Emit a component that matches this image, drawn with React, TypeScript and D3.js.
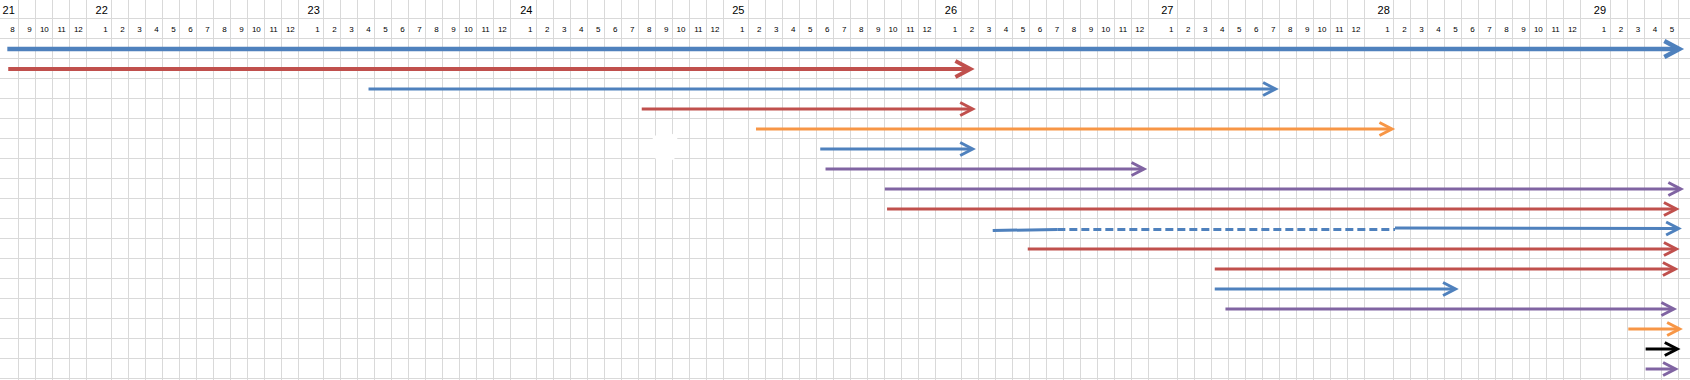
import React from 'react';
import * as d3 from 'd3';

// ---- tick labels ----
const groupLabels = ['21', '22', '23', '24', '25', '26', '27', '28', '29'];
const firstGroupHours = ['8', '9', '10', '11', '12'];
const fullGroupHours = ['1', '2', '3', '4', '5', '6', '7', '8', '9', '10', '11', '12'];
const lastGroupHours = ['1', '2', '3', '4', '5'];

// ---- arrow data (positions in hours since 21, 8 o'clock) ----
const arrowSeries = ['blue', 'red', 'blue', 'red', 'orange', 'blue', 'purple', 'purple', 'red', 'blue', 'red', 'red', 'blue', 'purple', 'orange', 'black', 'purple'];
const arrowStart = [0.4, 0.45, 20.66, 36.22, 42.47, 46.25, 46.56, 50.05, 50.18, 55.89, 57.95, 68.22, 68.22, 68.85, 91.1, 92.12, 92.12];
const arrowEnd = [94.34, 54.79, 71.96, 54.87, 78.08, 54.87, 64.95, 94.35, 94.09, 94.22, 94.09, 94.03, 81.82, 93.94, 94.28, 94.14, 94.04];
const dashedRow = 9;
const dashedSpan = [59.69, 78.1];

// ---- layout ----
const W = 1690;
const H = 380;
const NORMAL = 17;
const FIRST = 18.3;
const wideWidths = [25, 25, 25.7, 25, 25.6, 29.4, 29.3, 29.3];

const colorScale = d3
  .scaleOrdinal<string, string>()
  .domain(['blue', 'red', 'orange', 'purple', 'black'])
  .range(['#4F81BD', '#C0504D', '#F79646', '#8064A2', '#000000']);

export default function App() {
  const hourTicks: string[] = [...firstGroupHours];
  const widths: number[] = [FIRST, ...firstGroupHours.slice(1).map(() => NORMAL)];
  const groupStart: number[] = [0];
  for (let g = 1; g < groupLabels.length; g++) {
    const hrs = g === groupLabels.length - 1 ? lastGroupHours : fullGroupHours;
    groupStart.push(hourTicks.length);
    hrs.forEach((h, i) => {
      hourTicks.push(h);
      widths.push(i === 0 ? wideWidths[g - 1] : NORMAL);
    });
  }
  widths.push(NORMAL); // trailing empty column
  const edges = [0];
  widths.forEach((w) => edges.push(edges[edges.length - 1] + w));
  const x = d3.scaleLinear().domain(d3.range(edges.length)).range(edges);

  const rowY = d3.scaleLinear().domain([0, 1]).range([49, 69]);
  const hLines = d3.range(0, 19).map((k) => 18.5 + 20 * k);

  const font = "'Liberation Sans', Arial, sans-serif";

  return (
    <svg
      width={W}
      height={H}
      style={{ position: 'absolute', left: 0, top: 0, display: 'block', background: '#fff' }}
    >
      <rect x={0} y={0} width={W} height={H} fill="#fff" />
      {/* grid */}
      {edges.slice(1).map((e, i) => (
        <line key={'v' + i} x1={Math.round(e) + 0.5} x2={Math.round(e) + 0.5} y1={0} y2={H} stroke="#d9d9d9" strokeWidth={1} />
      ))}
      {hLines.map((y, i) => (
        <line key={'h' + i} x1={0} x2={W} y1={y} y2={y} stroke="#d9d9d9" strokeWidth={1} />
      ))}
      {/* white blotch */}
      <circle cx={665} cy={147} r={15} fill="#fff" />
      {/* group labels */}
      {groupLabels.map((g, i) => (
        <text key={'g' + i} x={x(groupStart[i] + 1) - 3.5} y={13.5} textAnchor="end" fontFamily={font} fontSize={11} fill="#000">
          {g}
        </text>
      ))}
      {/* hour labels */}
      {hourTicks.map((h, i) => (
        <text key={'t' + i} x={x(i + 1) - 3.5} y={32} textAnchor="end" fontFamily={font} fontSize={8} fill="#000">
          {h}
        </text>
      ))}
      {/* arrows */}
      {arrowSeries.map((s, i) => {
        const c = colorScale(s);
        const sw = i === 0 ? 4.5 : i === 1 ? 4 : 3;
        const L = i <= 1 ? 15 : 12.5;
        const hh = i <= 1 ? 8 : 6.5;
        const y = rowY(i);
        const x0 = x(arrowStart[i]);
        const tip = x(arrowEnd[i]) - sw * 0.9;
        const head = `M${tip - L},${y - hh} L${tip},${y} L${tip - L},${y + hh}`;
        if (i === dashedRow) {
          const d0 = x(dashedSpan[0]);
          const d1 = x(dashedSpan[1]);
          return (
            <g key={'a' + i}>
              <line x1={x0} x2={d0} y1={y + 1.5} y2={y + 0.5} stroke={c} strokeWidth={sw} />
              <line x1={d0} x2={d1} y1={y + 0.5} y2={y + 0.5} stroke={c} strokeWidth={sw} strokeDasharray="8,4" />
              <line x1={d1} x2={tip - 1} y1={y - 1} y2={y - 0.5} stroke={c} strokeWidth={sw} />
              <path d={`M${tip - L},${y - 0.5 - hh} L${tip},${y - 0.5} L${tip - L},${y - 0.5 + hh}`} fill="none" stroke={c} strokeWidth={sw} strokeLinejoin="miter" />
            </g>
          );
        }
        return (
          <g key={'a' + i}>
            <line x1={x0} x2={tip - 1} y1={y} y2={y} stroke={c} strokeWidth={sw} />
            <path d={head} fill="none" stroke={c} strokeWidth={sw} strokeLinejoin="miter" />
          </g>
        );
      })}
    </svg>
  );
}
